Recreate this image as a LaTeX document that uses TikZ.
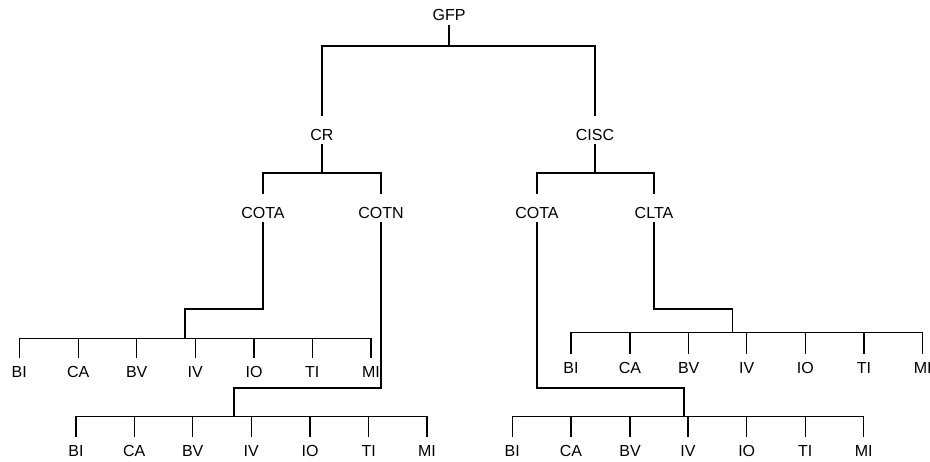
\documentclass[tikz,border=0pt]{standalone}
\usepackage{fontspec}
\setmainfont{Liberation Sans}
\begin{document}
\begin{tikzpicture}[x=1pt,y=-1pt,
  conn/.style={line width=1.2pt, line cap=rect},
  inner/.style={font=\fontsize{16}{18}\selectfont, inner xsep=0pt, inner ysep=4pt, text height=21pt, text depth=0pt, anchor=north},
  leaf/.style={font=\fontsize{16}{18}\selectfont, inner sep=0pt, text height=20pt, text depth=0pt, anchor=north}]
\useasboundingbox (0,0) rectangle (930,461);
% internal nodes
\node[font=\fontsize{16}{18}\selectfont, inner xsep=0pt, inner ysep=5pt, anchor=base] (gfp) at (449,20.7) {GFP};
\node[inner] (cr) at (322,115) {CR};
\node[inner] (cisc) at (595,115) {CISC};
\node[inner] (cotaL) at (263,193) {COTA};
\node[inner] (cotn) at (381,193) {COTN};
\node[inner] (cotaR) at (537,193) {COTA};
\node[inner] (clta) at (654,193) {CLTA};
% leaves
\def\labs{{"BI","CA","BV","IV","IO","TI","MI"}}
\foreach \x [count=\i from 0] in {19.3,78.3,136.7,195.3,254,312.3,371}
  \node[leaf] (a\i) at (\x,357.3) {\pgfmathparse{\labs[\i]}\pgfmathresult};
\foreach \x [count=\i from 0] in {76,134.3,192.7,251.3,310,368.7,427}
  \node[leaf] (b\i) at (\x,436.7) {\pgfmathparse{\labs[\i]}\pgfmathresult};
\foreach \x [count=\i from 0] in {571,630,688.7,746.7,805.3,864,922.7}
  \node[leaf] (c\i) at (\x,353.3) {\pgfmathparse{\labs[\i]}\pgfmathresult};
\foreach \x [count=\i from 0] in {512.3,571,630,688,746.7,805.3,863.7}
  \node[leaf] (d\i) at (\x,436.7) {\pgfmathparse{\labs[\i]}\pgfmathresult};
% junction points
\coordinate (jA) at (185,309);
\coordinate (jB) at (234,388);
\coordinate (jD) at (684,388);
\coordinate (jC) at (732.3,309);
% top level
\draw[conn] (gfp.south) -- (gfp.south |- 0,46);
\draw[conn] (cr.north) -- (cr.north |- 0,46) -- (cisc.north |- 0,46) -- (cisc.north);
% second level
\draw[conn] (cr.south) -- (cr.south |- 0,173);
\draw[conn] (cotaL.north) -- (cotaL.north |- 0,173) -- (cotn.north |- 0,173) -- (cotn.north);
\draw[conn] (cisc.south) -- (cisc.south |- 0,173);
\draw[conn] (cotaR.north) -- (cotaR.north |- 0,173) -- (clta.north |- 0,173) -- (clta.north);
% routes to leaf groups
\draw[conn] (cotaL.south) |- (jA) -- (jA |- 0,338.7);
\draw[conn] (cotn.south) |- (jB) -- (jB |- 0,416.7);
\draw[conn] (cotaR.south) |- (jD) -- (jD |- 0,416.7);
\draw[conn] (clta.south) |- (jC) -- (jC |- 0,332.7);
% leaf bars
\draw[conn] (a0.north) -- (a0.north |- 0,338.7) -- (a6.north |- 0,338.7) -- (a6.north);
\draw[conn] (b0.north) -- (b0.north |- 0,416.7) -- (b6.north |- 0,416.7) -- (b6.north);
\draw[conn] (c0.north) -- (c0.north |- 0,332.7) -- (c6.north |- 0,332.7) -- (c6.north);
\draw[conn] (d0.north) -- (d0.north |- 0,416.7) -- (d6.north |- 0,416.7) -- (d6.north);
\foreach \i in {1,...,5} {
  \draw[conn] (a\i.north) -- (a\i.north |- 0,338.7);
  \draw[conn] (b\i.north) -- (b\i.north |- 0,416.7);
  \draw[conn] (c\i.north) -- (c\i.north |- 0,332.7);
  \draw[conn] (d\i.north) -- (d\i.north |- 0,416.7);
}
\end{tikzpicture}
\end{document}
